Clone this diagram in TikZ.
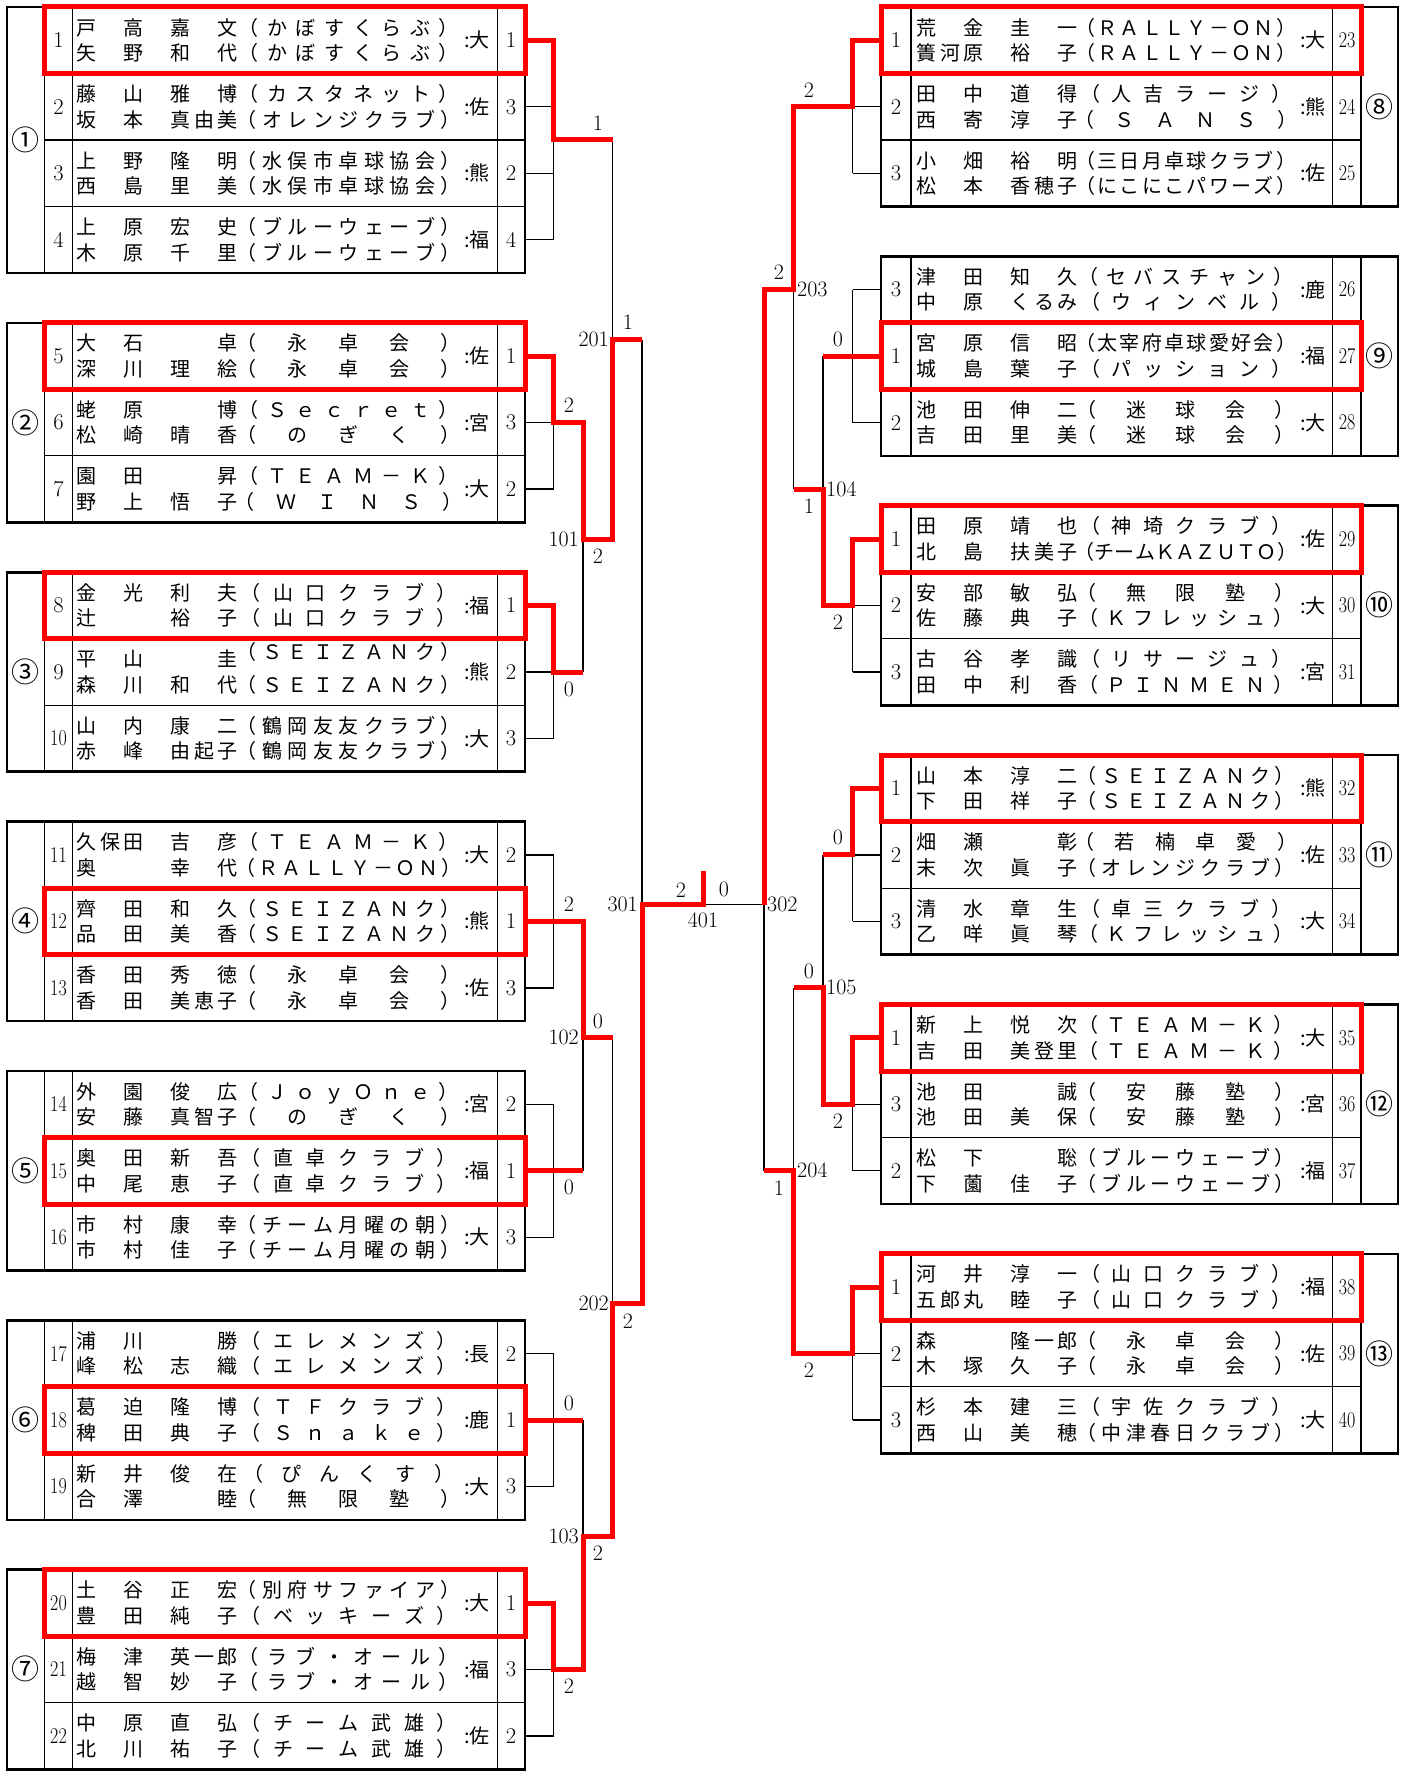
\documentclass[tikz,border=0pt]{standalone}
\usepackage{fontspec}
\usepackage{graphicx}
\newfontfamily\cjk{Noto Sans CJK JP}
\usetikzlibrary{calc}

\ExplSyntaxOn
\dim_new:N \l_spr_dim
\NewDocumentCommand\spreadbox{mm}
 {
  \dim_set:Nn \l_spr_dim { #1pt / \tl_count:n {#2} }
  \tl_map_inline:nn {#2}
   { \makebox[\l_spr_dim][c]{\sprchar{##1}} }
 }
\ExplSyntaxOff
\newcommand\sprchar[1]{\ifx*#1\else#1\fi}
\newcommand\sq[1]{\scalebox{0.8}[1]{#1}}

\tikzset{
 tl/.style={line width=1.1pt, black},
 outer/.style={line width=2.6pt, black},
 br/.style={line width=1.3pt, black},
 rd/.style={line width=5pt, red},
 fld/.style={anchor=base west, inner sep=0pt, font=\cjk\fontsize{20}{20}\selectfont},
 pref/.style={anchor=base, inner sep=0pt, font=\cjk\fontsize{20}{20}\selectfont},
 num/.style={inner sep=0pt, font=\fontsize{22.5}{22.5}\selectfont},
 lab/.style={inner sep=0pt, font=\fontsize{22}{22}\selectfont},
 circ/.style={anchor=base, inner sep=0pt, font=\cjk\fontsize{28}{28}\selectfont},
}

% left row: [club1 shift] k seed name1 club1 name2 club2 pref rank
\newcommand\rowL[9][0]{%
  \pgfmathsetmacro\ry{7+16.625*#2}%
  \node[fld] (La#2) at (75,{\ry-5.15}) {\spreadbox{164}{#4}};
  \node[fld] (Lb#2) at (234,{\ry-5.15+(#1)}) {\spreadbox{229}{#5}};
  \node[fld] (Lc#2) at (75,{\ry+20.35}) {\spreadbox{164}{#6}};
  \node[fld] (Ld#2) at (234,{\ry+20.35}) {\spreadbox{229}{#7}};
  \node[pref] (Le#2) at (477,{\ry+7.6}) {#8};
  \node[num] (Lf#2) at (58.5,\ry) {#3};
  \node[num] (Lg#2) at (511,\ry) {#9};
}
\newcommand\rowR[9][0]{%
  \pgfmathsetmacro\ry{7+16.625*#2}%
  \node[fld] (Ra#2) at (915,{\ry-5.15}) {\spreadbox{164}{#4}};
  \node[fld] (Rb#2) at (1074,{\ry-5.15+(#1)}) {\spreadbox{223}{#5}};
  \node[fld] (Rc#2) at (915,{\ry+20.35}) {\spreadbox{164}{#6}};
  \node[fld] (Rd#2) at (1074,{\ry+20.35}) {\spreadbox{223}{#7}};
  \node[pref] (Re#2) at (1313,{\ry+7.6}) {#8};
  \node[num] (Rf#2) at (1347,\ry) {#3};
  \node[num] (Rg#2) at (896,\ry) {#9};
}
\newcommand\tableL[3]{%
  \draw[tl] (tB|-y#1) -- (tB|-y#2) (tC|-y#1) -- (tC|-y#2) (tD|-y#1) -- (tD|-y#2);
  \foreach \r in {#3} {\draw[tl] (tB|-y\r) -- (xL0|-y\r);}
  \draw[outer] (tA|-y#1) rectangle (xL0|-y#2);
}
\newcommand\tableR[3]{%
  \draw[tl] (tE|-y#1) -- (tE|-y#2) (tF|-y#1) -- (tF|-y#2) (tG|-y#1) -- (tG|-y#2);
  \foreach \r in {#3} {\draw[tl] (xR0|-y\r) -- (tG|-y\r);}
  \draw[outer] (xR0|-y#1) rectangle (tH|-y#2);
}
\newcommand\circL[2]{\node[circ] (cg#1) at (25.8,{7+16.625*#2+10.4}) {#1};}
\newcommand\circR[2]{\node[circ] (cg#1) at (1379.5,{7+16.625*#2+10.4}) {#1};}

\begin{document}
\begin{tikzpicture}[x=1pt,y=-1pt]
\useasboundingbox (0,0) rectangle (1407,1771);
\fill[white] (0,0) rectangle (1407,1771);

\foreach \k in {0,...,106} {\coordinate (y\k) at (0,{7+16.625*\k});}
\coordinate (tA) at (7,0);
\coordinate (tB) at (44.6,0);
\coordinate (tC) at (72.3,0);
\coordinate (tD) at (497.3,0);
\coordinate (xL0) at (525,0);
\coordinate (xL1) at (553.5,0);
\coordinate (xL2) at (583,0);
\coordinate (xL3) at (612.5,0);
\coordinate (xL4) at (642,0);
\coordinate (xC) at (703,0);
\coordinate (xR4) at (764,0);
\coordinate (xR3) at (793.5,0);
\coordinate (xR2) at (823,0);
\coordinate (xR1) at (852.5,0);
\coordinate (xR0) at (881,0);
\coordinate (tE) at (911,0);
\coordinate (tF) at (1332.5,0);
\coordinate (tG) at (1361,0);
\coordinate (tH) at (1398,0);
\coordinate (champ) at (703,871);

% tables
\tableL{0}{16}{4,8,12}
\tableL{19}{31}{23,27}
\tableL{34}{46}{38,42}
\tableL{49}{61}{53,57}
\tableL{64}{76}{68,72}
\tableL{79}{91}{83,87}
\tableL{94}{106}{98,102}
\tableR{0}{12}{4,8}
\tableR{15}{27}{19,23}
\tableR{30}{42}{34,38}
\tableR{45}{57}{49,53}
\tableR{60}{72}{64,68}
\tableR{75}{87}{79,83}

% thin bracket lines, left
\draw[br] (xL0|-y6) -- (xL1|-y6) (xL0|-y10) -- (xL1|-y10) (xL0|-y14) -- (xL1|-y14) (xL1|-y6) -- (xL1|-y14);
\draw[br] (xL3|-y8) -- (xL3|-y20);
\draw[br] (xL0|-y25) -- (xL1|-y25) (xL0|-y29) -- (xL1|-y29) (xL1|-y21) -- (xL1|-y29);
\draw[br] (xL0|-y40) -- (xL1|-y40) (xL0|-y44) -- (xL1|-y44) (xL1|-y36) -- (xL1|-y44);
\draw[br] (xL2|-y32) -- (xL2|-y40);
\draw[br] (xL4|-y20) -- (xL4|-y54);
\draw[br] (xL0|-y51) -- (xL1|-y51) (xL0|-y59) -- (xL1|-y59) (xL1|-y51) -- (xL1|-y59);
\draw[br] (xL0|-y66) -- (xL1|-y66) (xL0|-y74) -- (xL1|-y74) (xL1|-y66) -- (xL1|-y74);
\draw[br] (xL2|-y62) -- (xL2|-y70);
\draw[br] (xL3|-y62) -- (xL3|-y78);
\draw[br] (xL0|-y81) -- (xL1|-y81) (xL0|-y89) -- (xL1|-y89) (xL1|-y81) -- (xL1|-y89);
\draw[br] (xL2|-y85) -- (xL2|-y92);
\draw[br] (xL0|-y100) -- (xL1|-y100) (xL0|-y104) -- (xL1|-y104) (xL1|-y96) -- (xL1|-y104);
% thin bracket lines, right
\draw[br] (xR0|-y6) -- (xR1|-y6) (xR0|-y10) -- (xR1|-y10) (xR1|-y2) -- (xR1|-y10);
\draw[br] (xR3|-y17) -- (xR3|-y29);
\draw[br] (xR0|-y17) -- (xR1|-y17) (xR0|-y25) -- (xR1|-y25) (xR1|-y17) -- (xR1|-y25);
\draw[br] (xR2|-y21) -- (xR2|-y29);
\draw[br] (xR0|-y36) -- (xR1|-y36) (xR0|-y40) -- (xR1|-y40) (xR1|-y32) -- (xR1|-y40);
\draw[br] (xR4|-y54) -- (xR4|-y70) (xR4|-y54) -- (xC|-y54);
\draw[br] (xR0|-y51) -- (xR1|-y51) (xR0|-y55) -- (xR1|-y55) (xR1|-y47) -- (xR1|-y55);
\draw[br] (xR2|-y51) -- (xR2|-y59);
\draw[br] (xR0|-y66) -- (xR1|-y66) (xR0|-y70) -- (xR1|-y70) (xR1|-y62) -- (xR1|-y70);
\draw[br] (xR3|-y59) -- (xR3|-y70);
\draw[br] (xR0|-y81) -- (xR1|-y81) (xR0|-y85) -- (xR1|-y85) (xR1|-y77) -- (xR1|-y85);

% red winner paths, left
\draw[rd] (xL0|-y2) -- (xL1|-y2) -- (xL1|-y8) -- (xL3|-y8);
\draw[rd] (xL0|-y21) -- (xL1|-y21) -- (xL1|-y25) -- (xL2|-y25) -- (xL2|-y32) -- (xL3|-y32) -- (xL3|-y20) -- (xL4|-y20);
\draw[rd] (xL0|-y36) -- (xL1|-y36) -- (xL1|-y40) -- (xL2|-y40);
\draw[rd] (xL0|-y55) -- (xL2|-y55) -- (xL2|-y62) -- (xL3|-y62);
\draw[rd] (xL0|-y70) -- (xL2|-y70);
\draw[rd] (xL0|-y85) -- (xL2|-y85);
\draw[rd] (xL0|-y96) -- (xL1|-y96) -- (xL1|-y100) -- (xL2|-y100) -- (xL2|-y92) -- (xL3|-y92) -- (xL3|-y78) -- (xL4|-y78) -- (xL4|-y54) -- (xC|-y54) -- (champ);
% red winner paths, right
\draw[rd] (xR0|-y2) -- (xR1|-y2) -- (xR1|-y6) -- (xR3|-y6) -- (xR3|-y17) -- (xR4|-y17) -- (xR4|-y54);
\draw[rd] (xR0|-y21) -- (xR2|-y21);
\draw[rd] (xR0|-y32) -- (xR1|-y32) -- (xR1|-y36) -- (xR2|-y36) -- (xR2|-y29) -- (xR3|-y29);
\draw[rd] (xR0|-y47) -- (xR1|-y47) -- (xR1|-y51) -- (xR2|-y51);
\draw[rd] (xR0|-y62) -- (xR1|-y62) -- (xR1|-y66) -- (xR2|-y66) -- (xR2|-y59) -- (xR3|-y59);
\draw[rd] (xR0|-y77) -- (xR1|-y77) -- (xR1|-y81) -- (xR3|-y81) -- (xR3|-y70) -- (xR4|-y70);

% red boxes
\draw[rd] (tB|-y0) rectangle (xL0|-y4);
\draw[rd] (tB|-y19) rectangle (xL0|-y23);
\draw[rd] (tB|-y34) rectangle (xL0|-y38);
\draw[rd] (tB|-y53) rectangle (xL0|-y57);
\draw[rd] (tB|-y68) rectangle (xL0|-y72);
\draw[rd] (tB|-y83) rectangle (xL0|-y87);
\draw[rd] (tB|-y94) rectangle (xL0|-y98);
\draw[rd] (xR0|-y0) rectangle (tG|-y4);
\draw[rd] (xR0|-y19) rectangle (tG|-y23);
\draw[rd] (xR0|-y30) rectangle (tG|-y34);
\draw[rd] (xR0|-y45) rectangle (tG|-y49);
\draw[rd] (xR0|-y60) rectangle (tG|-y64);
\draw[rd] (xR0|-y75) rectangle (tG|-y79);

% group circles
\circL{①}{8}\circL{②}{25}\circL{③}{40}\circL{④}{55}\circL{⑤}{70}\circL{⑥}{85}\circL{⑦}{100}
\circR{⑧}{6}\circR{⑨}{21}\circR{⑩}{36}\circR{⑪}{51}\circR{⑫}{66}\circR{⑬}{81}

% left entries
\rowL{2}{1}{戸*高*嘉*文}{（かぼすくらぶ）}{矢*野*和*代}{（かぼすくらぶ）}{:大}{1}
\rowL{6}{2}{藤*山*雅*博}{（カスタネット）}{坂*本*真由美}{（オレンジクラブ）}{:佐}{3}
\rowL{10}{3}{上*野*隆*明}{（水俣市卓球協会）}{西*島*里*美}{（水俣市卓球協会）}{:熊}{2}
\rowL{14}{4}{上*原*宏*史}{（ブルーウェーブ）}{木*原*千*里}{（ブルーウェーブ）}{:福}{4}
\rowL{21}{5}{大*石***卓}{（*永*卓*会*）}{深*川*理*絵}{（*永*卓*会*）}{:佐}{1}
\rowL{25}{6}{蛯*原***博}{（Ｓｅｃｒｅｔ）}{松*崎*晴*香}{（*の*ぎ*く*）}{:宮}{3}
\rowL{29}{7}{園*田***昇}{（ＴＥＡＭ－Ｋ）}{野*上*悟*子}{（*Ｗ*Ｉ*Ｎ*Ｓ*）}{:大}{2}
\rowL{36}{8}{金*光*利*夫}{（山口クラブ）}{辻***裕*子}{（山口クラブ）}{:福}{1}
\rowL[-7]{40}{9}{平*山***圭}{（ＳＥＩＺＡＮク）}{森*川*和*代}{（ＳＥＩＺＡＮク）}{:熊}{2}
\rowL{44}{\sq{10}}{山*内*康*二}{（鶴岡友友クラブ）}{赤*峰*由起子}{（鶴岡友友クラブ）}{:大}{3}
\rowL{51}{\sq{11}}{久保田*吉*彦}{（ＴＥＡＭ－Ｋ）}{奥***幸*代}{（ＲＡＬＬＹ－ＯＮ）}{:大}{2}
\rowL{55}{\sq{12}}{齊*田*和*久}{（ＳＥＩＺＡＮク）}{品*田*美*香}{（ＳＥＩＺＡＮク）}{:熊}{1}
\rowL{59}{\sq{13}}{香*田*秀*徳}{（*永*卓*会*）}{香*田*美恵子}{（*永*卓*会*）}{:佐}{3}
\rowL{66}{\sq{14}}{外*園*俊*広}{（ＪｏｙＯｎｅ）}{安*藤*真智子}{（*の*ぎ*く*）}{:宮}{2}
\rowL{70}{\sq{15}}{奥*田*新*吾}{（直卓クラブ）}{中*尾*恵*子}{（直卓クラブ）}{:福}{1}
\rowL{74}{\sq{16}}{市*村*康*幸}{（チーム月曜の朝）}{市*村*佳*子}{（チーム月曜の朝）}{:大}{3}
\rowL{81}{\sq{17}}{浦*川***勝}{（エレメンズ）}{峰*松*志*織}{（エレメンズ）}{:長}{2}
\rowL{85}{\sq{18}}{葛*迫*隆*博}{（ＴＦクラブ）}{稗*田*典*子}{（Ｓｎａｋｅ）}{:鹿}{1}
\rowL{89}{\sq{19}}{新*井*俊*在}{（ぴんくす）}{合*澤***睦}{（*無*限*塾*）}{:大}{3}
\rowL{96}{\sq{20}}{土*谷*正*宏}{（別府サファイア）}{豊*田*純*子}{（ベッキーズ）}{:大}{1}
\rowL{100}{\sq{21}}{梅*津*英一郎}{（ラブ・オール）}{越*智*妙*子}{（ラブ・オール）}{:福}{3}
\rowL{104}{\sq{22}}{中*原*直*弘}{（チーム武雄）}{北*川*祐*子}{（チーム武雄）}{:佐}{2}

% right entries
\rowR{2}{\sq{23}}{荒*金*圭*一}{（ＲＡＬＬＹ－ＯＮ）}{簀河原*裕*子}{（ＲＡＬＬＹ－ＯＮ）}{:大}{1}
\rowR{6}{\sq{24}}{田*中*道*得}{（人吉ラージ）}{西*寄*淳*子}{（*Ｓ*Ａ*Ｎ*Ｓ*）}{:熊}{2}
\rowR{10}{\sq{25}}{小*畑*裕*明}{（三日月卓球クラブ）}{松*本*香穂子}{（にこにこパワーズ）}{:佐}{3}
\rowR{17}{\sq{26}}{津*田*知*久}{（セバスチャン）}{中*原*くるみ}{（ウィンベル）}{:鹿}{3}
\rowR{21}{\sq{27}}{宮*原*信*昭}{（太宰府卓球愛好会）}{城*島*葉*子}{（パッション）}{:福}{1}
\rowR{25}{\sq{28}}{池*田*伸*二}{（*迷*球*会*）}{吉*田*里*美}{（*迷*球*会*）}{:大}{2}
\rowR{32}{\sq{29}}{田*原*靖*也}{（神埼クラブ）}{北*島*扶美子}{（チームＫＡＺＵＴＯ）}{:佐}{1}
\rowR{36}{\sq{30}}{安*部*敏*弘}{（*無*限*塾*）}{佐*藤*典*子}{（Ｋフレッシュ）}{:大}{2}
\rowR{40}{\sq{31}}{古*谷*孝*識}{（リサージュ）}{田*中*利*香}{（ＰＩＮＭＥＮ）}{:宮}{3}
\rowR{47}{\sq{32}}{山*本*淳*二}{（ＳＥＩＺＡＮク）}{下*田*祥*子}{（ＳＥＩＺＡＮク）}{:熊}{1}
\rowR{51}{\sq{33}}{畑*瀬***彰}{（*若*楠*卓*愛*）}{末*次*眞*子}{（オレンジクラブ）}{:佐}{2}
\rowR{55}{\sq{34}}{清*水*章*生}{（卓三クラブ）}{乙*咩*眞*琴}{（Ｋフレッシュ）}{:大}{3}
\rowR{62}{\sq{35}}{新*上*悦*次}{（ＴＥＡＭ－Ｋ）}{吉*田*美登里}{（ＴＥＡＭ－Ｋ）}{:大}{1}
\rowR{66}{\sq{36}}{池*田***誠}{（*安*藤*塾*）}{池*田*美*保}{（*安*藤*塾*）}{:宮}{3}
\rowR{70}{\sq{37}}{松*下***聡}{（ブルーウェーブ）}{下*薗*佳*子}{（ブルーウェーブ）}{:福}{2}
\rowR{77}{\sq{38}}{河*井*淳*一}{（山口クラブ）}{五郎丸*睦*子}{（山口クラブ）}{:福}{1}
\rowR{81}{\sq{39}}{森***隆一郎}{（*永*卓*会*）}{木*塚*久*子}{（*永*卓*会*）}{:佐}{2}
\rowR{85}{\sq{40}}{杉*本*建*三}{（宇佐クラブ）}{西*山*美*穂}{（中津春日クラブ）}{:大}{3}

% score and match labels, left
\node[lab] (sa) at (598,{7+16.625*8-17}) {1};
\node[lab,anchor=east] (m201) at (609,{7+16.625*20}) {201};
\node[lab] (sb) at (628,{7+16.625*20-17}) {1};
\node[lab] (sc) at (569,{7+16.625*25-17}) {2};
\node[lab,anchor=east] (m101) at (579,{7+16.625*32}) {101};
\node[lab] (sd) at (598,{7+16.625*32+17}) {2};
\node[lab] (se) at (569,{7+16.625*40+17}) {0};
\node[lab] (sf) at (569,{7+16.625*55-17}) {2};
\node[lab,anchor=east] (m102) at (579,{7+16.625*62}) {102};
\node[lab] (sg) at (598,{7+16.625*62-16}) {0};
\node[lab] (sh) at (569,{7+16.625*70+17}) {0};
\node[lab] (si) at (569,{7+16.625*85-17}) {0};
\node[lab,anchor=east] (m103) at (579,{7+16.625*92}) {103};
\node[lab] (sj) at (598,{7+16.625*92+17}) {2};
\node[lab] (sk) at (569,{7+16.625*100+17}) {2};
\node[lab,anchor=east] (m202) at (609,{7+16.625*78}) {202};
\node[lab] (sl) at (628,{7+16.625*78+17}) {2};
\node[lab,anchor=east] (m301) at (638,{7+16.625*54}) {301};
\node[lab] (sm) at (681,{7+16.625*54-15}) {2};
\node[lab] (sn) at (724,{7+16.625*54-15}) {0};
\node[lab] (m401) at (703,{7+16.625*54+16}) {401};
\node[lab,anchor=west] (m302) at (767,{7+16.625*54}) {302};
% right
\node[lab] (ra) at (809,{7+16.625*6-17}) {2};
\node[lab] (rb) at (779,{7+16.625*17-17}) {2};
\node[lab,anchor=west] (m203) at (797,{7+16.625*17}) {203};
\node[lab] (rc) at (838,{7+16.625*21-17}) {0};
\node[lab] (rd) at (809,{7+16.625*29+17}) {1};
\node[lab,anchor=west] (m104) at (826,{7+16.625*29}) {104};
\node[lab] (re) at (838,{7+16.625*36+17}) {2};
\node[lab] (rf) at (838,{7+16.625*51-17}) {0};
\node[lab] (rg) at (809,{7+16.625*59-16}) {0};
\node[lab,anchor=west] (m105) at (826,{7+16.625*59}) {105};
\node[lab] (rh) at (838,{7+16.625*66+17}) {2};
\node[lab] (ri) at (809,{7+16.625*81+17}) {2};
\node[lab,anchor=west] (m204) at (797,{7+16.625*70}) {204};
\node[lab] (rj) at (779,{7+16.625*70+17}) {1};
\end{tikzpicture}
\end{document}
